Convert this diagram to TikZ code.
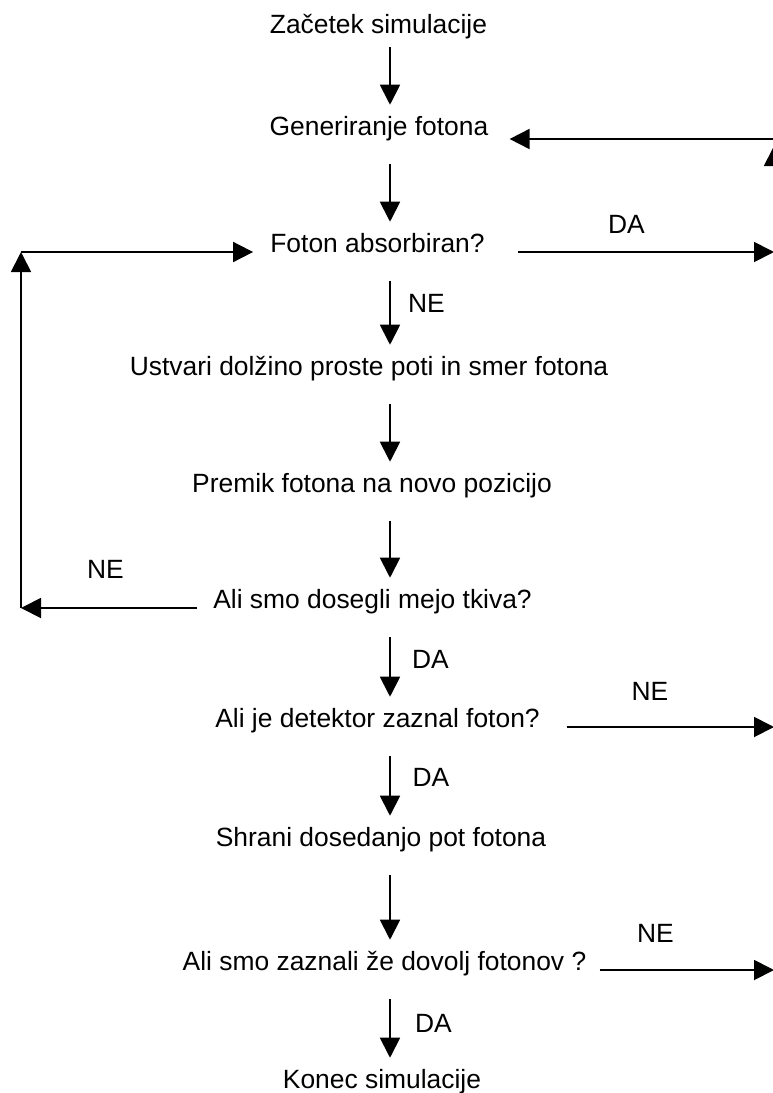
\documentclass[tikz,border=0pt]{standalone}
\usepackage{fontspec}
\setmainfont{Liberation Sans}
\usetikzlibrary{arrows.meta, positioning, calc}

\begin{document}
\begin{tikzpicture}[
  x=0.75pt, y=-0.75pt,
  box/.style={font=\fontsize{19.8}{24}\selectfont, anchor=base, inner xsep=0pt, inner ysep=9.5pt, text height=13pt, text depth=12pt},
  lbl/.style={font=\fontsize{19.8}{24}\selectfont, anchor=base, inner sep=0pt},
  arr/.style={line width=1.4pt, -{Triangle[length=15pt, width=15pt]}}
]
  \useasboundingbox (0,0) rectangle (773,1093);
  \clip (0,0) rectangle (773,1093);

  % steps of the simulation
  \node[box, text depth=1pt] (zac) at (378.5,33) {Začetek simulacije};
  \node[box] (gen)  at (379,135)   {Generiranje fotona};
  \node[box] (fot)  at (377.5,252) {Foton absorbiran?};
  \node[box] (ust)  at (369,375)   {Ustvari dolžino proste poti in smer fotona};
  \node[box] (pre)  at (372,492)   {Premik fotona na novo pozicijo};
  \node[box] (ali1) at (372.5,608) {Ali smo dosegli mejo tkiva?};
  \node[box] (det)  at (377.5,727) {Ali je detektor zaznal foton?};
  \node[box] (shr)  at (381,846)   {Shrani dosedanjo pot fotona};
  \node[box] (dov)  at (384.5,970) {Ali smo zaznali že dovolj fotonov ?};
  \node[box] (kon)  at (382,1088)  {Konec simulacije};

  % labels
  \node[lbl] (daFot)  at (626.5,233) {DA};
  \node[lbl] (neFot)  at (426.5,312) {NE};
  \node[lbl] (neAli)  at (105.5,578) {NE};
  \node[lbl] (daAli)  at (430.5,668) {DA};
  \node[lbl] (neDet)  at (650,700)   {NE};
  \node[lbl] (daDet)  at (431,786)   {DA};
  \node[lbl] (neDov)  at (655.5,942) {NE};
  \node[lbl] (daDov)  at (433.5,1032) {DA};

  \coordinate (ax) at (390,0);
  \coordinate (lx) at (21,0);
  \coordinate (rx) at (774,0);
  \coordinate (rtop) at (774,139);
  \coordinate (rup) at (774,146);

  % main column
  \draw[arr] (zac.south -| ax) -- (gen.north -| ax);
  \draw[arr] (gen.south -| ax) -- (fot.north -| ax);
  \draw[arr] (fot.south -| ax) -- (ust.north -| ax);
  \draw[arr] (ust.south -| ax) -- (pre.north -| ax);
  \draw[arr] (pre.south -| ax) -- (ali1.north -| ax);
  \draw[arr] (ali1.south -| ax) -- (det.north -| ax);
  \draw[arr] (det.south -| ax) -- (shr.north -| ax);
  \draw[arr] (shr.south -| ax) -- (dov.north -| ax);
  \draw[arr] (dov.south -| ax) -- (kon.north -| ax);

  % loop back on the left
  \draw[arr, shorten <=12pt] (ali1.base west) -- (ali1.base west -| lx);
  \draw[arr] (ali1.base west -| lx) -- (fot.base west -| lx);
  \draw[arr, shorten >=12.75pt] (fot.base west -| lx) -- (fot.base west);

  % exits on the right
  \draw[arr, shorten <=24.75pt] (fot.base east) -- (fot.base east -| rx);
  \draw[arr, shorten <=20pt] (det.base east) -- (det.base east -| rx);
  \draw[arr, shorten <=9.75pt] (dov.base east) -- (dov.base east -| rx);
  \draw[arr] (fot.base east -| rx) -- (rup);
  \draw[arr, shorten >=15.75pt] (rtop) -- (rtop -| gen.east);
\end{tikzpicture}
\end{document}
